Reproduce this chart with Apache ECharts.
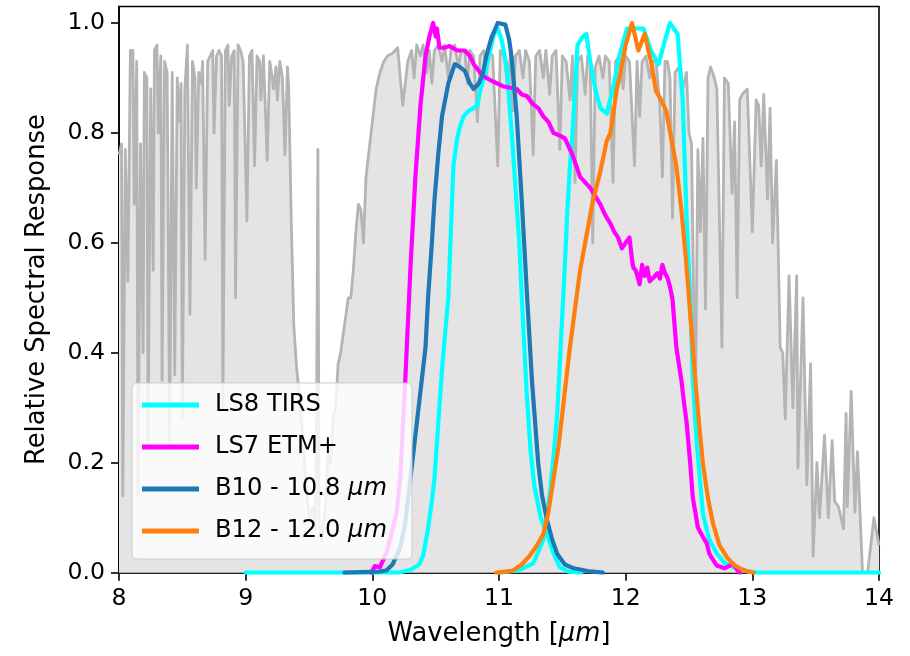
<!DOCTYPE html>
<html>
<head>
<meta charset="utf-8">
<script src="https://cdn.jsdelivr.net/npm/echarts@6/dist/echarts.min.js"></script>
<style>html,body{margin:0;padding:0;background:#fff}#c{width:910px;height:656px}</style>
</head>
<body>
<div id="c"></div>
<script>
// ---- data ----
const xTicks = [8, 9, 10, 11, 12, 13, 14];
const yTicks = [0.0, 0.2, 0.4, 0.6, 0.8, 1.0];
const seriesNames = ['LS8 TIRS', 'LS7 ETM+', 'B10 - 10.8 μm', 'B12 - 12.0 μm'];

// atmospheric transmission (background, grey)
const atmosphere = [
[8.00,0.76],[8.02,0.78],[8.03,0.14],[8.05,0.77],[8.07,0.53],[8.09,0.95],[8.11,0.95],[8.12,0.67],[8.14,0.93],[8.15,0.14],
[8.17,0.78],[8.19,0.40],[8.20,0.91],[8.22,0.90],[8.23,0.24],[8.25,0.88],[8.27,0.55],[8.28,0.95],[8.30,0.96],[8.31,0.80],
[8.33,0.94],[8.34,0.35],[8.36,0.93],[8.38,0.91],[8.40,0.24],[8.42,0.91],[8.44,0.36],[8.46,0.90],[8.47,0.82],[8.49,0.89],
[8.50,0.28],[8.52,0.88],[8.54,0.96],[8.56,0.47],[8.58,0.93],[8.60,0.90],[8.61,0.70],[8.63,0.91],[8.65,0.89],[8.66,0.93],
[8.68,0.57],[8.70,0.93],[8.72,0.94],[8.74,0.95],[8.75,0.80],[8.77,0.94],[8.79,0.95],[8.81,0.94],[8.82,0.30],[8.84,0.95],
[8.86,0.96],[8.87,0.85],[8.89,0.94],[8.91,0.95],[8.92,0.50],[8.94,0.96],[8.96,0.95],[8.98,0.93],[9.01,0.64],[9.03,0.94],
[9.05,0.95],[9.07,0.74],[9.09,0.94],[9.11,0.93],[9.12,0.86],[9.14,0.94],[9.17,0.75],[9.19,0.93],[9.21,0.90],[9.22,0.88],
[9.24,0.92],[9.25,0.86],[9.27,0.93],[9.29,0.90],[9.31,0.76],[9.33,0.92],[9.34,0.88],[9.36,0.64],[9.38,0.45],[9.40,0.38],
[9.42,0.33],[9.45,0.25],[9.48,0.15],[9.50,0.10],[9.53,0.12],[9.55,0.08],[9.56,0.30],[9.57,0.77],[9.58,0.10],[9.60,0.06],
[9.63,0.12],[9.65,0.22],[9.67,0.20],[9.69,0.28],[9.71,0.30],[9.73,0.38],[9.75,0.40],[9.78,0.45],[9.81,0.50],[9.83,0.50],
[9.85,0.55],[9.87,0.62],[9.89,0.67],[9.91,0.66],[9.93,0.60],[9.95,0.72],[9.98,0.78],[10.00,0.82],[10.03,0.88],[10.06,0.91],
[10.09,0.93],[10.12,0.94],[10.16,0.945],[10.20,0.955],[10.24,0.85],[10.28,0.93],[10.31,0.95],[10.33,0.90],[10.35,0.96],[10.38,0.94],
[10.40,0.96],[10.43,0.91],[10.45,0.95],[10.47,0.89],[10.49,0.95],[10.52,0.96],[10.55,0.93],[10.57,0.96],[10.60,0.90],[10.62,0.95],
[10.65,0.96],[10.68,0.92],[10.70,0.95],[10.73,0.95],[10.75,0.89],[10.77,0.95],[10.80,0.94],[10.83,0.82],[10.85,0.94],[10.88,0.95],
[10.90,0.90],[10.92,0.95],[10.95,0.94],[10.99,0.74],[11.01,0.95],[11.04,0.94],[11.07,0.88],[11.09,0.95],[11.11,0.84],[11.13,0.94],
[11.16,0.95],[11.19,0.90],[11.21,0.95],[11.24,0.93],[11.27,0.76],[11.29,0.94],[11.32,0.95],[11.35,0.90],[11.37,0.95],[11.40,0.87],
[11.42,0.94],[11.45,0.95],[11.48,0.77],[11.50,0.94],[11.53,0.93],[11.56,0.86],[11.58,0.94],[11.60,0.71],[11.62,0.93],[11.65,0.94],
[11.68,0.87],[11.70,0.94],[11.72,0.93],[11.74,0.60],[11.76,0.92],[11.79,0.94],[11.82,0.90],[11.84,0.94],[11.87,0.93],[11.90,0.71],
[11.92,0.93],[11.95,0.94],[11.98,0.88],[12.00,0.94],[12.03,0.93],[12.07,0.74],[12.09,0.93],[12.11,0.83],[12.13,0.93],[12.16,0.94],
[12.19,0.90],[12.21,0.93],[12.24,0.93],[12.27,0.85],[12.29,0.72],[12.31,0.93],[12.33,0.93],[12.35,0.90],[12.37,0.645],[12.39,0.91],
[12.42,0.92],[12.45,0.88],[12.48,0.91],[12.50,0.80],[12.52,0.78],[12.55,0.28],[12.57,0.77],[12.59,0.62],[12.61,0.79],[12.63,0.48],
[12.65,0.90],[12.67,0.92],[12.70,0.90],[12.72,0.88],[12.76,0.41],[12.78,0.90],[12.81,0.89],[12.84,0.69],[12.86,0.82],[12.88,0.50],
[12.90,0.86],[12.92,0.87],[12.96,0.88],[13.00,0.62],[13.03,0.86],[13.05,0.85],[13.07,0.74],[13.09,0.87],[13.12,0.68],[13.14,0.845],
[13.16,0.60],[13.19,0.75],[13.22,0.41],[13.24,0.40],[13.26,0.28],[13.29,0.54],[13.32,0.30],[13.35,0.54],[13.36,0.19],[13.40,0.50],
[13.43,0.16],[13.46,0.38],[13.48,0.03],[13.51,0.20],[13.53,0.10],[13.57,0.25],[13.60,0.10],[13.63,0.24],[13.65,0.13],[13.68,0.12],
[13.72,0.08],[13.74,0.29],[13.75,0.12],[13.78,0.33],[13.81,0.11],[13.83,0.22],[13.87,0.0],[13.91,0.0],[13.96,0.10],[14.00,0.05]
];

// LS8 TIRS band 10 (cyan)
const ls8Band10 = [
[9.00,0],[10.20,0],[10.30,0.005],[10.37,0.015],[10.40,0.03],[10.44,0.08],[10.47,0.13],[10.49,0.17],[10.52,0.27],[10.55,0.37],
[10.58,0.45],[10.60,0.50],[10.62,0.62],[10.64,0.74],[10.67,0.79],[10.69,0.81],[10.72,0.83],[10.76,0.84],[10.80,0.845],[10.83,0.85],
[10.85,0.876],[10.88,0.90],[10.92,0.94],[10.96,0.98],[10.99,0.99],[11.02,0.97],[11.06,0.92],[11.10,0.80],[11.13,0.70],[11.16,0.60],
[11.18,0.50],[11.22,0.32],[11.25,0.22],[11.28,0.156],[11.33,0.10],[11.38,0.07],[11.43,0.035],[11.48,0.01],[11.55,0.002],[11.65,0]
];
// LS8 TIRS band 11 (cyan)
const ls8Band11 = [
[11.00,0],[11.15,0.004],[11.27,0.017],[11.35,0.06],[11.40,0.14],[11.43,0.21],[11.46,0.29],[11.48,0.38],[11.50,0.47],[11.52,0.56],
[11.54,0.66],[11.56,0.74],[11.58,0.80],[11.60,0.88],[11.62,0.96],[11.66,0.975],[11.69,0.98],[11.72,0.93],[11.76,0.88],[11.80,0.845],
[11.85,0.835],[11.90,0.88],[11.95,0.94],[12.01,0.99],[12.06,0.99],[12.14,0.99],[12.20,0.95],[12.26,0.925],[12.30,0.96],[12.35,1.0],
[12.41,0.98],[12.45,0.86],[12.48,0.65],[12.51,0.495],[12.53,0.35],[12.56,0.24],[12.61,0.107],[12.66,0.06],[12.72,0.035],[12.78,0.018],
[12.85,0.01],[12.95,0.003],[13.05,0],[14.00,0]
];
// LS7 ETM+ (magenta)
const ls7 = [
[9.99,0],[10.02,0.012],[10.06,0.01],[10.11,0.035],[10.15,0.07],[10.19,0.107],[10.22,0.17],[10.26,0.35],[10.30,0.55],[10.34,0.72],
[10.38,0.85],[10.42,0.94],[10.45,0.975],[10.48,1.0],[10.50,0.975],[10.51,0.99],[10.53,0.955],[10.57,0.955],[10.61,0.958],[10.67,0.95],
[10.73,0.95],[10.77,0.94],[10.80,0.925],[10.87,0.904],[10.94,0.895],[11.03,0.885],[11.14,0.88],[11.18,0.87],[11.22,0.867],[11.27,0.852],
[11.31,0.845],[11.35,0.83],[11.39,0.82],[11.43,0.80],[11.48,0.795],[11.52,0.79],[11.55,0.775],[11.58,0.76],[11.61,0.74],[11.64,0.72],
[11.68,0.71],[11.72,0.70],[11.76,0.685],[11.80,0.67],[11.84,0.65],[11.88,0.635],[11.91,0.62],[11.94,0.61],[11.97,0.59],[12.00,0.60],
[12.03,0.61],[12.05,0.57],[12.06,0.555],[12.08,0.55],[12.11,0.525],[12.13,0.56],[12.15,0.54],[12.17,0.555],[12.19,0.53],[12.22,0.537],
[12.25,0.545],[12.27,0.535],[12.29,0.56],[12.31,0.545],[12.33,0.537],[12.35,0.52],[12.37,0.497],[12.40,0.41],[12.44,0.35],[12.46,0.31],
[12.48,0.276],[12.51,0.198],[12.53,0.136],[12.55,0.11],[12.57,0.082],[12.61,0.065],[12.64,0.053],[12.66,0.035],[12.68,0.027],[12.72,0.013],
[12.78,0.008],[12.85,0.016],[12.88,0.005],[12.90,0]
];
// B10 - 10.8 um (blue)
const b10 = [
[9.78,0],[10.05,0.002],[10.11,0.004],[10.16,0.015],[10.22,0.045],[10.26,0.09],[10.30,0.17],[10.33,0.23],[10.36,0.29],[10.42,0.41],
[10.44,0.50],[10.47,0.60],[10.49,0.676],[10.52,0.76],[10.55,0.83],[10.60,0.89],[10.65,0.925],[10.69,0.92],[10.73,0.913],[10.77,0.89],
[10.80,0.88],[10.84,0.89],[10.87,0.905],[10.90,0.94],[10.94,0.973],[10.99,1.0],[11.05,0.997],[11.08,0.97],[11.10,0.937],[11.14,0.83],
[11.18,0.676],[11.22,0.51],[11.26,0.35],[11.31,0.198],[11.34,0.14],[11.38,0.095],[11.42,0.06],[11.46,0.034],[11.52,0.015],[11.59,0.008],
[11.70,0.003],[11.82,0]
];
// B12 - 12.0 um (orange)
const b12 = [
[10.98,0],[11.05,0.002],[11.11,0.004],[11.18,0.015],[11.24,0.03],[11.30,0.05],[11.35,0.07],[11.39,0.11],[11.43,0.17],[11.47,0.23],
[11.50,0.29],[11.56,0.41],[11.60,0.48],[11.64,0.55],[11.68,0.60],[11.74,0.675],[11.80,0.73],[11.85,0.785],[11.88,0.80],[11.93,0.88],
[11.96,0.91],[12.00,0.96],[12.05,1.0],[12.10,0.95],[12.15,0.98],[12.20,0.93],[12.24,0.876],[12.28,0.86],[12.32,0.84],[12.36,0.79],
[12.40,0.74],[12.44,0.66],[12.47,0.585],[12.49,0.53],[12.52,0.44],[12.55,0.35],[12.58,0.27],[12.61,0.198],[12.65,0.135],[12.69,0.089],
[12.74,0.05],[12.80,0.028],[12.85,0.015],[12.90,0.008],[12.95,0.003],[13.01,0]
];

// ---- chart ----
const FONT = 'DejaVu Sans';
const FS = 23.6;     // tick labels
const FSL = 24.2;    // legend
const FSN = 25.8;    // axis titles
const chart = echarts.init(document.getElementById('c'), null, {renderer: 'canvas'});

function lineSeries(name, data, color, z) {
  return {
    name: name, type: 'line', data: data, showSymbol: false, symbol: 'none',
    lineStyle: {color: color, width: 4.2, join: 'round', cap: 'round'},
    itemStyle: {color: color}, z: z, animation: false, silent: true
  };
}

const option = {
  animation: false,
  backgroundColor: '#ffffff',
  grid: {left: 119, right: 31, top: 6.5, bottom: 83.3, show: true, borderColor: '#000', borderWidth: 1.6, backgroundColor: 'transparent', containLabel: false},
  xAxis: {
    type: 'value', min: xTicks[0], max: xTicks[xTicks.length - 1], interval: 1,
    axisLine: {show: true, lineStyle: {color: '#000', width: 1.6}},
    axisTick: {show: true, inside: false, length: 8, lineStyle: {color: '#000', width: 1.6}},
    axisLabel: {color: '#000', fontFamily: FONT, fontSize: FS, margin: 14},
    splitLine: {show: false},
    name: '{a|Wavelength [}{i|μm}{a|]}', nameLocation: 'middle', nameGap: 49,
    nameTextStyle: {color: '#000', fontFamily: FONT, fontSize: FSN,
      rich: {a: {fontFamily: FONT, fontSize: FSN, color: '#000'}, i: {fontFamily: FONT, fontSize: FSN, fontStyle: 'italic', color: '#000'}}}
  },
  yAxis: {
    type: 'value', min: 0, max: 1.03,
    axisLine: {show: true, lineStyle: {color: '#000', width: 1.6}},
    axisTick: {show: true, inside: false, length: 8, lineStyle: {color: '#000', width: 1.6}, customValues: yTicks},
    axisLabel: {color: '#000', fontFamily: FONT, fontSize: FS, margin: 14, customValues: yTicks, formatter: v => Number(v).toFixed(1)},
    splitLine: {show: false},
    name: 'Relative Spectral Response', nameLocation: 'middle', nameGap: 69, nameRotate: 90,
    nameTextStyle: {color: '#000', fontFamily: FONT, fontSize: FSN}
  },
  legend: {
    data: seriesNames, orient: 'vertical', left: 132, top: 383,
    padding: [10, 25, 16, 10], itemGap: 18, itemWidth: 57, itemHeight: 5, icon: 'rect',
    backgroundColor: 'rgba(255,255,255,0.8)', borderColor: '#cccccc', borderWidth: 1, borderRadius: 5,
    z: 20, selectedMode: false,
    formatter: function (name) {
      const idx = name.indexOf('μm');
      if (idx >= 0) return '{s| }{a|' + name.slice(0, idx) + '}{i|μm}';
      return '{s| }{a|' + name + '}';
    },
    textStyle: {color: '#000', fontFamily: FONT, fontSize: FSL,
      rich: {
        s: {width: 11, fontSize: FSL},
        a: {fontFamily: FONT, fontSize: FSL, color: '#000'},
        i: {fontFamily: FONT, fontSize: FSL, fontStyle: 'italic', color: '#000'}
      }}
  },
  series: [
    {
      name: 'atmosphere', type: 'line', data: atmosphere, showSymbol: false, symbol: 'none',
      lineStyle: {color: '#b4b4b4', width: 2.8, join: 'round'},
      areaStyle: {color: '#e4e4e4', opacity: 1},
      z: 1, animation: false, silent: true
    },
    lineSeries(seriesNames[0], ls8Band10, '#00ffff', 2),
    lineSeries(seriesNames[0], ls8Band11, '#00ffff', 2),
    lineSeries(seriesNames[1], ls7, '#ff00ff', 3),
    lineSeries(seriesNames[2], b10, '#1f77b4', 4),
    lineSeries(seriesNames[3], b12, '#ff7f0e', 5)
  ]
};
chart.setOption(option);
</script>
</body>
</html>
